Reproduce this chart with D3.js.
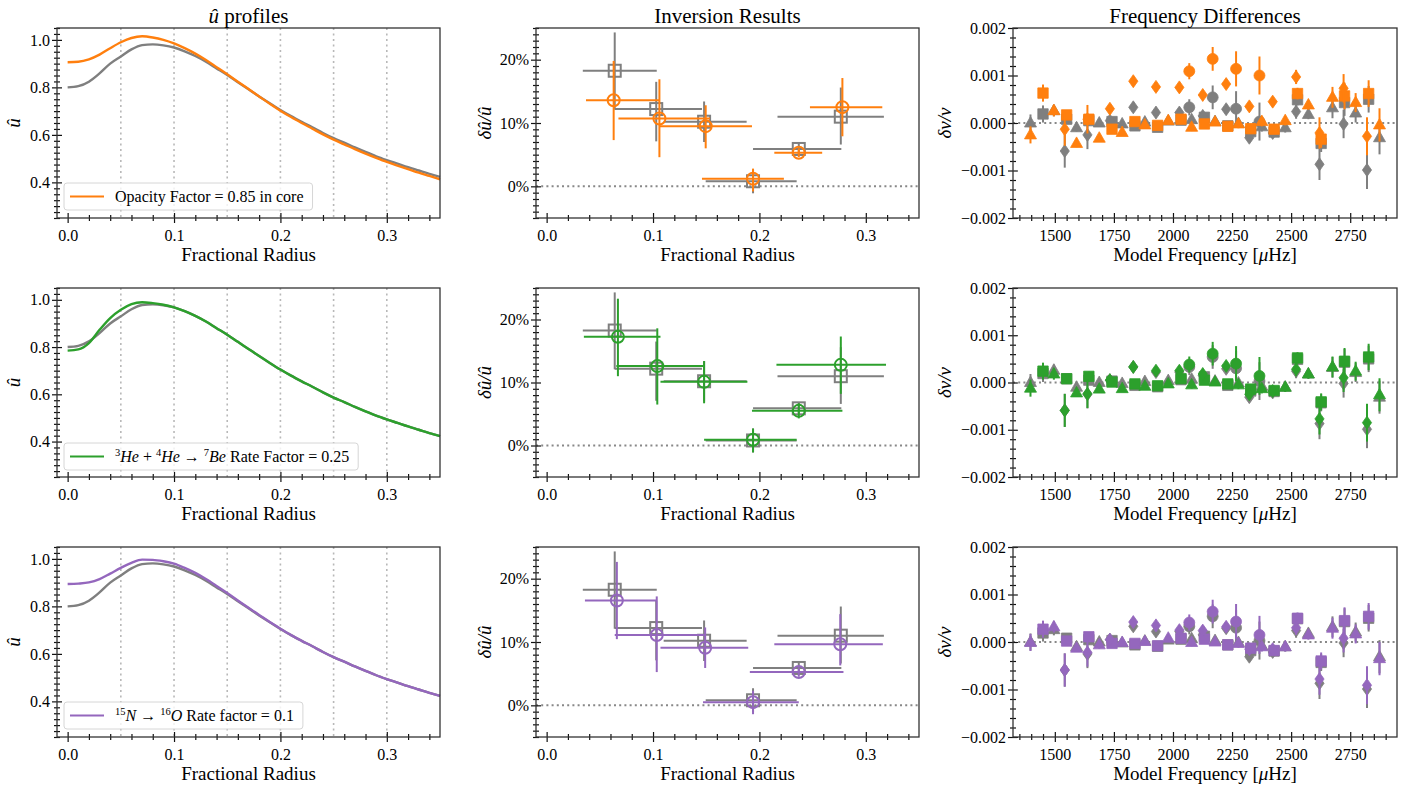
<!DOCTYPE html>
<html>
<head>
<meta charset="utf-8">
<script src="https://cdn.jsdelivr.net/npm/d3@7"></script>
<style>
  body { margin: 0; background: #fff; }
  svg text { font-family: 'Liberation Serif', 'DejaVu Serif', serif; fill: #000; }
</style>
</head>
<body>
<div id="chart"></div>
<script>
// ---- data ----
var radius = [0.00,0.01,0.02,0.03,0.04,0.05,0.06,0.07,0.08,0.09,0.10,0.11,0.12,0.13,0.14,0.15,0.16,0.17,
  0.18,0.19,0.20,0.21,0.22,0.23,0.24,0.25,0.26,0.27,0.28,0.29,0.30,0.31,0.32,0.33,0.34,0.35];

var uRef = [0.800,0.805,0.824,0.859,0.900,0.930,0.960,0.978,0.981,0.977,0.968,0.952,0.932,0.908,0.880,0.852,0.822,0.792,
  0.762,0.733,0.705,0.679,0.655,0.632,0.608,0.586,0.567,0.547,0.528,0.510,0.494,0.479,0.464,0.450,0.436,0.423];
var uOpacity = [0.906,0.908,0.918,0.938,0.965,0.990,1.008,1.015,1.010,1.000,0.985,0.965,0.942,0.915,0.885,0.855,0.824,0.793,
  0.762,0.731,0.702,0.675,0.650,0.626,0.602,0.580,0.560,0.540,0.521,0.503,0.486,0.471,0.456,0.441,0.427,0.413];
var uHeBe = [0.785,0.790,0.817,0.873,0.923,0.958,0.982,0.990,0.986,0.979,0.968,0.952,0.932,0.908,0.880,0.852,0.822,0.792,
  0.762,0.733,0.705,0.679,0.655,0.632,0.608,0.586,0.567,0.547,0.528,0.510,0.494,0.479,0.464,0.450,0.436,0.423];
var uNO = [0.894,0.896,0.901,0.915,0.938,0.962,0.983,0.997,0.996,0.990,0.980,0.962,0.941,0.915,0.886,0.856,0.825,0.794,
  0.764,0.734,0.706,0.679,0.655,0.632,0.608,0.586,0.567,0.547,0.528,0.510,0.494,0.479,0.464,0.450,0.436,0.423];

var profileGrid = [0.05,0.10,0.15,0.20,0.25,0.30];

// inversion points: [radius, du/u, radius low, radius high, du/u low, du/u high]
var invRef = [[0.064,0.1825,0.034,0.1035,0.121,0.243],[0.103,0.122,0.064,0.146,0.071,0.165],
  [0.148,0.102,0.110,0.188,0.070,0.134],[0.194,0.008,0.1495,0.235,-0.011,0.027],
  [0.237,0.059,0.194,0.277,0.050,0.068],[0.2765,0.110,0.217,0.317,0.066,0.156]];
var invOpacity = [[0.063,0.136,0.037,0.1065,0.073,0.198],[0.106,0.107,0.0675,0.1535,0.046,0.169],
  [0.1495,0.095,0.106,0.193,0.060,0.128],[0.194,0.012,0.146,0.223,-0.008,0.028],
  [0.237,0.053,0.214,0.259,0.046,0.060],[0.278,0.125,0.2475,0.3155,0.079,0.171]];
var invHeBe = [[0.067,0.1725,0.035,0.107,0.110,0.233],[0.104,0.126,0.0655,0.147,0.065,0.186],
  [0.148,0.101,0.107,0.1887,0.067,0.134],[0.194,0.009,0.148,0.235,-0.011,0.027],
  [0.237,0.055,0.193,0.278,0.043,0.067],[0.2765,0.128,0.216,0.319,0.082,0.173]];
var invNO = [[0.066,0.1655,0.036,0.1035,0.1045,0.2265],[0.1035,0.111,0.064,0.149,0.0525,0.172],
  [0.149,0.091,0.107,0.1895,0.059,0.123],[0.194,0.005,0.147,0.237,-0.014,0.023],
  [0.237,0.0525,0.191,0.279,0.045,0.060],[0.276,0.0965,0.214,0.316,0.063,0.144]];

// mode frequencies (muHz) by degree
var freqL0 = [2069,2168,2267,2366];
var freqL1 = [1450,1550,1644,1742,1839,1935,2034,2133,2232,2329,2428,2527,2627,2726,2828];
var freqL2 = [1397,1496,1592,1688,1785,1881,1980,2079,2178,2277,2376,2475,2573,2675,2773,2874];
var freqL3 = [1542,1638,1733,1832,1928,2027,2126,2225,2323,2422,2521,2620,2722,2821];

var errL0 = [0.00017,0.00025,0.00037,0.0004];
var errL1 = [0.00018,0.0001,0.0001,0.00008,0.00008,0.00008,0.00008,0.00008,0.00008,0.0001,0.0001,0.00012,0.00018,0.00028,0.00028];
var errL2 = [0.00018,0.00012,0.00008,0.00008,0.00007,0.00007,0.00007,0.00008,0.00008,0.00009,0.0001,0.0001,0.0001,0.00022,0.0002,0.00035];
var errL3 = [0.00035,0.0003,0.0001,0.0001,0.0001,0.0001,0.0001,0.0001,0.0001,0.0001,0.00015,0.00033,0.0003,0.0004];

var dnuRefL0 = [0.00033,0.00054,0.0003,0.00003];
var dnuRefL1 = [0.00019,0.00008,0.00005,0.00003,-0.00006,-0.00009,0.00006,0.00012,-0.00006,-0.00018,-0.00019,0.00049,-0.00043,0.00043,0.0005];
var dnuRefL2 = [0.0,0.00026,-0.0001,0.0,-0.00002,0.00002,0.00004,0.00007,0.00003,-0.00001,-0.00008,-0.0001,0.00018,0.00032,0.00021,-0.00031];
var dnuRefL3 = [-0.00059,-0.00025,0.00005,0.00033,0.00022,0.00022,0.00015,0.00029,-0.00031,-0.00021,0.00024,-0.00087,-0.00002,-0.00099];

var dnuOpacityL0 = [0.00109,0.00135,0.00114,0.001];
var dnuOpacityL1 = [0.00063,0.00017,0.00008,-0.00013,0.00003,-0.00005,0.00008,-0.00002,-0.00007,-0.00012,-0.00013,0.00062,-0.00034,0.00057,0.00062];
var dnuOpacityL2 = [-0.00025,0.00026,-0.00043,-0.00032,-0.0002,-0.00004,0.00005,-0.00009,0.00002,-0.00002,0.00003,0.00005,0.00038,0.00054,0.00043,-0.00004];
var dnuOpacityL3 = [-0.00013,0.00008,0.0003,0.00088,0.00076,0.00075,0.00059,0.00082,0.00035,0.00045,0.00097,-0.00021,0.00073,-0.00028];

var dnuHeBeL0 = [0.00038,0.00061,0.0004,0.00014];
var dnuHeBeL1 = [0.00024,0.00008,0.00013,0.00001,-0.00003,-0.00007,0.00008,0.00005,-0.00003,-0.00014,-0.00017,0.00052,-0.00041,0.00045,0.00054];
var dnuHeBeL2 = [-0.00012,0.00018,-0.00022,-0.00014,-0.00013,-0.00008,-0.00003,-0.00005,0.00001,-0.00005,-0.00013,-0.0001,0.00018,0.00033,0.00024,-0.00026];
var dnuHeBeL3 = [-0.00059,-0.00024,0.00005,0.00033,0.00025,0.00025,0.00018,0.00035,-0.00025,-0.00018,0.00028,-0.00077,0.0001,-0.00085];

var dnuNOL0 = [0.00041,0.00064,0.00043,0.00015];
var dnuNOL1 = [0.00027,0.00002,0.00011,-0.00003,-0.00003,-0.00008,0.00008,0.00006,-0.00006,-0.00013,-0.00018,0.0005,-0.0004,0.00045,0.00054];
var dnuNOL2 = [-0.00001,0.00032,-0.00013,-0.00006,-0.00001,0.00001,0.00008,-0.00001,0.0,-0.00003,-0.0001,-0.0001,0.00015,0.00029,0.00017,-0.00035];
var dnuNOL3 = [-0.00059,-0.00022,0.00005,0.00042,0.00035,0.00025,0.00024,0.00032,-0.00015,-0.00015,0.0003,-0.00078,0.00008,-0.00091];

var refColor = "#7f7f7f";
var models = [
  {color: "#ff7f0e", u: uOpacity, inv: invOpacity, dnu: [dnuOpacityL0, dnuOpacityL1, dnuOpacityL2, dnuOpacityL3], legend: "opacity"},
  {color: "#2ca02c", u: uHeBe, inv: invHeBe, dnu: [dnuHeBeL0, dnuHeBeL1, dnuHeBeL2, dnuHeBeL3], legend: "hebe"},
  {color: "#9467bd", u: uNO, inv: invNO, dnu: [dnuNOL0, dnuNOL1, dnuNOL2, dnuNOL3], legend: "no"}
];
var freqs = [freqL0, freqL1, freqL2, freqL3];
var errs = [errL0, errL1, errL2, errL3];
var dnuRef = [dnuRefL0, dnuRefL1, dnuRefL2, dnuRefL3];

// ---- layout ----
var serif = "'Liberation Serif', 'DejaVu Serif', serif";
var svg = d3.select("#chart").append("svg").attr("width", 1408).attr("height", 785);
var cols = [{x0: 57, x1: 440}, {x0: 536, x1: 919}, {x0: 1013, x1: 1397}];
var rows = [{y0: 28, y1: 218}, {y0: 288, y1: 477}, {y0: 547, y1: 737}];

function drawAxes(g, x, y, w, h, o) {
  // x axis, ticks in-out
  var gx = g.append("g").attr("transform", `translate(0,${h})`)
    .call(d3.axisBottom(x).tickValues(o.xMajor).tickFormat(o.xFmt).tickSize(5).tickPadding(7));
  gx.selectAll(".tick line").attr("y1", -5);
  var gxm = g.append("g").attr("transform", `translate(0,${h})`)
    .call(d3.axisBottom(x).tickValues(o.xMinor).tickFormat("").tickSize(3));
  gxm.selectAll(".tick line").attr("y1", -3);
  var gy = g.append("g")
    .call(d3.axisLeft(y).tickValues(o.yMajor).tickFormat(o.yFmt).tickSize(5).tickPadding(o.yPad || 2));
  gy.selectAll(".tick line").attr("x1", 5);
  var gym = g.append("g")
    .call(d3.axisLeft(y).tickValues(o.yMinor).tickFormat("").tickSize(3));
  gym.selectAll(".tick line").attr("x1", 3);
  [gx, gxm, gy, gym].forEach(function(a) {
    a.attr("font-family", null).attr("font-size", null);
    a.select(".domain").remove();
    a.selectAll(".tick line").attr("stroke", "#111").attr("stroke-width", 1.2);
    a.selectAll("text").style("font-size", "16px").style("font-family", serif).attr("fill", "#000");
  });
  g.append("rect").attr("width", w).attr("height", h)
    .attr("fill", "none").attr("stroke", "#333").attr("stroke-width", 1.3);
}

function xLabel(g, w, h, build) {
  var t = g.append("text").attr("x", w / 2).attr("y", h + 43)
    .attr("text-anchor", "middle").style("font-size", "19px");
  build(t);
}
function yLabel(g, dx, h, build) {
  var t = g.append("text").attr("transform", `translate(${dx},${h / 2}) rotate(-90)`)
    .attr("text-anchor", "middle").style("font-size", "19px");
  build(t);
}

function minorTicks(lo, hi, step, majors) {
  return d3.range(Math.round(lo / step), Math.round(hi / step) + 1)
    .map(function(k) { return +(k * step).toFixed(6); })
    .filter(function(v) { return !majors.some(function(m) { return Math.abs(m - v) < 1e-9; }); });
}

var radMajor = [0, 0.1, 0.2, 0.3];
var radMinor = minorTicks(0, 0.34, 0.02, radMajor);

// ---- profile panels ----
function profilePanel(ri, m) {
  var c = cols[0], r = rows[ri];
  var w = c.x1 - c.x0, h = r.y1 - r.y0;
  var g = svg.append("g").attr("transform", `translate(${c.x0},${r.y0})`);
  var x = d3.scaleLinear().domain([-0.01, 0.35]).range([0, w]);
  var y = d3.scaleLinear().domain([0.25, 1.05]).range([h, 0]);

  g.selectAll(".grid").data(profileGrid).enter().append("line")
    .attr("x1", d => x(d)).attr("x2", d => x(d)).attr("y1", 0).attr("y2", h)
    .attr("stroke", "#b8b8b8").attr("stroke-width", 1.6).attr("stroke-dasharray", "2,3.5");

  var line = d3.line().x((d, i) => x(radius[i])).y(d => y(d)).curve(d3.curveMonotoneX);
  g.append("path").datum(uRef).attr("d", line).attr("fill", "none")
    .attr("stroke", refColor).attr("stroke-width", 2.4);
  g.append("path").datum(m.u).attr("d", line).attr("fill", "none")
    .attr("stroke", m.color).attr("stroke-width", 2.4);

  drawAxes(g, x, y, w, h, {
    xMajor: radMajor, xMinor: radMinor, xFmt: d3.format(".1f"),
    yMajor: [0.4, 0.6, 0.8, 1.0], yMinor: minorTicks(0.25, 1.05, 0.025, [0.4, 0.6, 0.8, 1.0]),
    yFmt: d3.format(".1f")
  });

  // legend
  var lg = g.append("g").attr("transform", "translate(7,155)");
  var box = lg.append("rect").attr("x", 0).attr("y", 0).attr("height", 27).attr("rx", 3)
    .attr("fill", "#fff").attr("fill-opacity", 0.8).attr("stroke", "#d6d6d6");
  lg.append("line").attr("x1", 6).attr("x2", 40).attr("y1", 13.5).attr("y2", 13.5)
    .attr("stroke", m.color).attr("stroke-width", 2.2);
  var t = lg.append("text").attr("x", 51).attr("y", 19).style("font-size", "16px");
  if (m.legend === "opacity") {
    t.text("Opacity Factor = 0.85 in core");
  } else if (m.legend === "hebe") {
    t.append("tspan").style("font-size", "10.5px").attr("dy", -6).text("3");
    t.append("tspan").attr("font-style", "italic").attr("dy", 6).text("He");
    t.append("tspan").text(" + ");
    t.append("tspan").style("font-size", "10.5px").attr("dy", -6).text("4");
    t.append("tspan").attr("font-style", "italic").attr("dy", 6).text("He");
    t.append("tspan").text(" → ");
    t.append("tspan").style("font-size", "10.5px").attr("dy", -6).text("7");
    t.append("tspan").attr("font-style", "italic").attr("dy", 6).text("Be");
    t.append("tspan").text(" Rate Factor = 0.25");
  } else {
    t.append("tspan").style("font-size", "10.5px").attr("dy", -6).text("15");
    t.append("tspan").attr("font-style", "italic").attr("dy", 6).text("N");
    t.append("tspan").text(" → ");
    t.append("tspan").style("font-size", "10.5px").attr("dy", -6).text("16");
    t.append("tspan").attr("font-style", "italic").attr("dy", 6).text("O");
    t.append("tspan").text(" Rate factor = 0.1");
  }
  box.attr("width", t.node().getComputedTextLength() + 51 + 9);

  xLabel(g, w, h, t => t.text("Fractional Radius"));
  yLabel(g, -37, h, t => t.append("tspan").attr("font-style", "italic").text("û"));
  if (ri === 0) {
    var tt = g.append("text").attr("x", w / 2).attr("y", -5).attr("text-anchor", "middle").style("font-size", "21px");
    tt.append("tspan").attr("font-style", "italic").text("û");
    tt.append("tspan").text(" profiles");
  }
}

// ---- inversion panels ----
function inversionPanel(ri, m) {
  var c = cols[1], r = rows[ri];
  var w = c.x1 - c.x0, h = r.y1 - r.y0;
  var g = svg.append("g").attr("transform", `translate(${c.x0},${r.y0})`);
  var x = d3.scaleLinear().domain([-0.01, 0.35]).range([0, w]);
  var y = d3.scaleLinear().domain([-0.05, 0.25]).range([h, 0]);

  g.append("line").attr("x1", 0).attr("x2", w).attr("y1", y(0)).attr("y2", y(0))
    .attr("stroke", "#888").attr("stroke-width", 2).attr("stroke-dasharray", "2,3.2");

  function errbars(data, color) {
    var eb = g.append("g").attr("stroke", color).attr("stroke-width", 2);
    eb.selectAll(".h").data(data).enter().append("line")
      .attr("x1", d => x(d[2])).attr("x2", d => x(d[3])).attr("y1", d => y(d[1])).attr("y2", d => y(d[1]));
    eb.selectAll(".v").data(data).enter().append("line")
      .attr("x1", d => x(d[0])).attr("x2", d => x(d[0])).attr("y1", d => y(d[4])).attr("y2", d => y(d[5]));
  }
  errbars(invRef, refColor);
  g.selectAll(".sq").data(invRef).enter().append("rect")
    .attr("x", d => x(d[0]) - 6).attr("y", d => y(d[1]) - 6).attr("width", 12).attr("height", 12)
    .attr("fill", "none").attr("stroke", refColor).attr("stroke-width", 2);
  errbars(m.inv, m.color);
  g.selectAll(".ci").data(m.inv).enter().append("circle")
    .attr("cx", d => x(d[0])).attr("cy", d => y(d[1])).attr("r", 6)
    .attr("fill", "none").attr("stroke", m.color).attr("stroke-width", 2);

  drawAxes(g, x, y, w, h, {
    xMajor: radMajor, xMinor: radMinor, xFmt: d3.format(".1f"),
    yMajor: [0, 0.1, 0.2], yMinor: minorTicks(-0.05, 0.25, 0.01, [0, 0.1, 0.2]),
    yFmt: d => Math.round(d * 100) + "%"
  });
  xLabel(g, w, h, t => t.text("Fractional Radius"));
  yLabel(g, -45, h, t => {
    t.append("tspan").attr("font-style", "italic").text("δû/û");
  });
  if (ri === 0) {
    g.append("text").attr("x", w / 2).attr("y", -5).attr("text-anchor", "middle")
      .style("font-size", "21px").text("Inversion Results");
  }
}

// ---- frequency difference panels ----
var markerPaths = [
  d3.symbol(d3.symbolCircle, Math.PI * 30)(),
  "M-5.2,-5.2H5.2V5.2H-5.2Z",
  "M0,-6.5L6,4L-6,4Z",
  "M0,-6.5L4.6,0L0,6.5L-4.6,0Z"
];

function freqPanel(ri, m) {
  var c = cols[2], r = rows[ri];
  var w = c.x1 - c.x0, h = r.y1 - r.y0;
  var g = svg.append("g").attr("transform", `translate(${c.x0},${r.y0})`);
  var x = d3.scaleLinear().domain([1323, 2948]).range([0, w]);
  var y = d3.scaleLinear().domain([-0.002, 0.002]).range([h, 0]);

  g.append("line").attr("x1", 0).attr("x2", w).attr("y1", y(0)).attr("y2", y(0))
    .attr("stroke", "#888").attr("stroke-width", 2.2).attr("stroke-dasharray", "2,3.2");

  function series(vals, color) {
    for (var l = 0; l < 4; l++) {
      var pts = freqs[l].map((f, i) => ({f: f, v: vals[l][i], e: errs[l][i]}));
      g.append("g").selectAll("line").data(pts).enter().append("line")
        .attr("x1", d => x(d.f)).attr("x2", d => x(d.f))
        .attr("y1", d => y(d.v - d.e)).attr("y2", d => y(d.v + d.e))
        .attr("stroke", color).attr("stroke-width", 2);
      g.append("g").selectAll("path").data(pts).enter().append("path")
        .attr("d", markerPaths[l])
        .attr("transform", d => `translate(${x(d.f)},${y(d.v)})`)
        .attr("fill", color).attr("stroke", color).attr("stroke-width", 0.8);
    }
  }
  series(dnuRef, refColor);
  series(m.dnu, m.color);

  drawAxes(g, x, y, w, h, {
    xMajor: [1500, 1750, 2000, 2250, 2500, 2750], xFmt: d3.format("d"),
    xMinor: minorTicks(1350, 2900, 50, [1500, 1750, 2000, 2250, 2500, 2750]),
    yMajor: [-0.002, -0.001, 0, 0.001, 0.002], yFmt: d3.format(".3f"), yPad: 0,
    yMinor: minorTicks(-0.002, 0.002, 0.0002, [-0.002, -0.001, 0, 0.001, 0.002])
  });
  xLabel(g, w, h, t => {
    t.append("tspan").text("Model Frequency [");
    t.append("tspan").attr("font-style", "italic").text("μ");
    t.append("tspan").text("Hz]");
  });
  yLabel(g, -62, h, t => t.append("tspan").attr("font-style", "italic").text("δν/ν"));
  if (ri === 0) {
    g.append("text").attr("x", w / 2).attr("y", -5).attr("text-anchor", "middle")
      .style("font-size", "21px").text("Frequency Differences");
  }
}

models.forEach(function(m, i) {
  profilePanel(i, m);
  inversionPanel(i, m);
  freqPanel(i, m);
});
</script>
</body>
</html>
